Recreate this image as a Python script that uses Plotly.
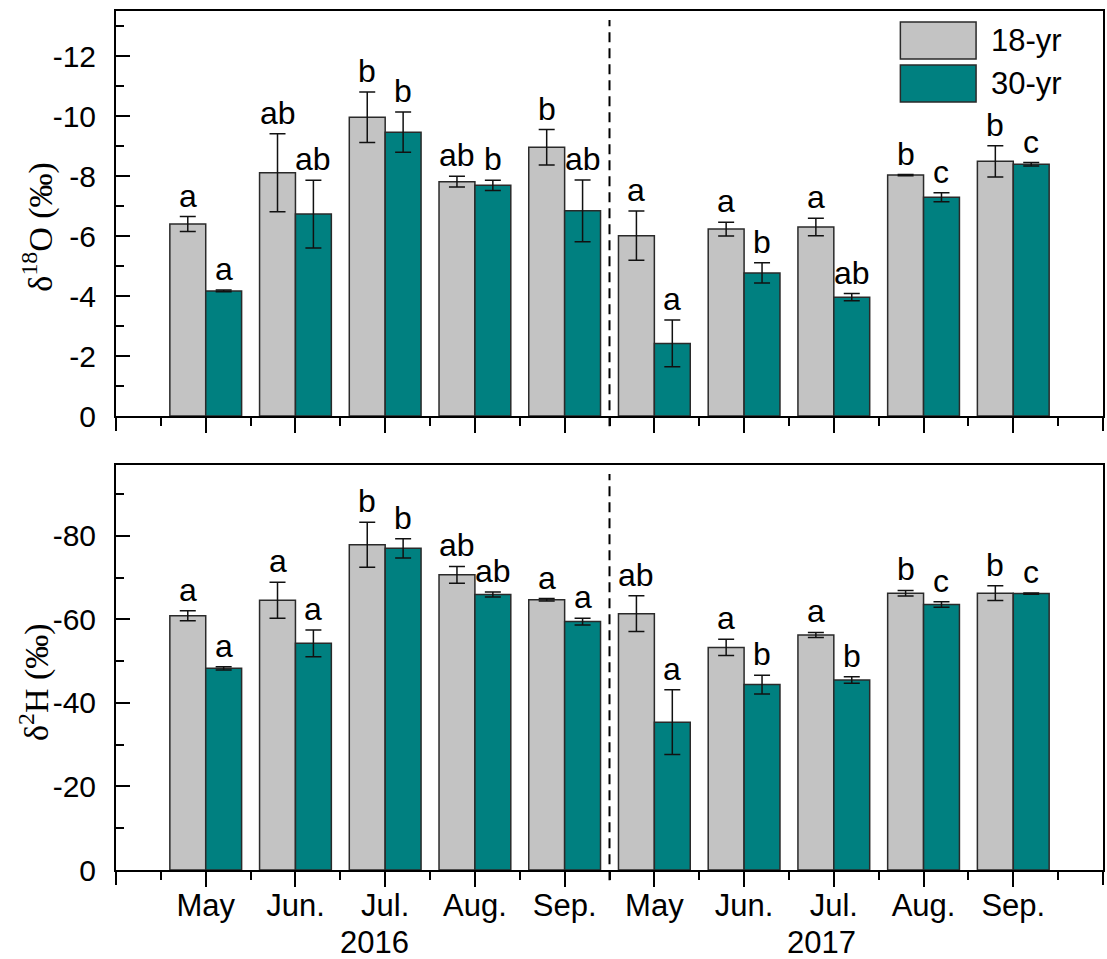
import plotly.graph_objects as go
from plotly.subplots import make_subplots

# Sampling months (two seasons) and their years
months = ["May", "Jun.", "Jul.", "Aug.", "Sep.", "May", "Jun.", "Jul.", "Aug.", "Sep."]
years = ["2016", "2017"]

# delta-18O (per mil), mean and standard error
o18_18yr = [-6.40, -8.11, -9.96, -7.81, -8.96, -6.01, -6.23, -6.30, -8.03, -8.49]
o18_18yr_se = [0.25, 1.30, 0.84, 0.18, 0.59, 0.82, 0.23, 0.29, 0.02, 0.52]
o18_30yr = [-4.17, -6.73, -9.46, -7.69, -6.84, -2.42, -4.77, -3.96, -7.29, -8.39]
o18_30yr_se = [0.03, 1.13, 0.67, 0.17, 1.03, 0.78, 0.34, 0.12, 0.15, 0.06]

# delta-2H (per mil), mean and standard error
h2_18yr = [-60.9, -64.6, -77.9, -70.7, -64.7, -61.4, -53.3, -56.3, -66.3, -66.3]
h2_18yr_se = [1.2, 4.3, 5.4, 2.0, 0.3, 4.3, 1.95, 0.6, 0.65, 1.75]
h2_30yr = [-48.3, -54.3, -77.05, -66.0, -59.5, -35.4, -44.4, -45.5, -63.6, -66.2]
h2_30yr_se = [0.4, 3.2, 2.3, 0.6, 0.8, 7.75, 2.25, 0.8, 0.65, 0.15]

# Significance letters
o18_18yr_sig = ["a", "ab", "b", "ab", "b", "a", "a", "a", "b", "b"]
o18_30yr_sig = ["a", "ab", "b", "b", "ab", "a", "b", "ab", "c", "c"]
h2_18yr_sig = ["a", "a", "b", "ab", "a", "ab", "a", "a", "b", "b"]
h2_30yr_sig = ["a", "a", "b", "ab", "a", "a", "b", "b", "c", "c"]

# Axis ticks
o18_ticks = [0, -2, -4, -6, -8, -10, -12]
o18_ticktext = ["0", "-2", "-4", "-6", "-8", "-10", "-12"]
h2_ticks = [0, -20, -40, -60, -80]
h2_ticktext = ["0", "-20", "-40", "-60", "-80"]

series_names = ["18-yr", "30-yr"]
GRAY = "#C3C3C3"
TEAL = "#008080"
EDGE = "#2a2a2a"
SANS = "Liberation Sans, Arial, sans-serif"
SERIF = "Liberation Serif, Times New Roman, serif"
BAR_W = 0.4

x_pos = list(range(1, len(months) + 1))

fig = make_subplots(rows=2, cols=1)

panels = [
    (1, o18_18yr, o18_18yr_se, o18_30yr, o18_30yr_se, o18_18yr_sig, o18_30yr_sig),
    (2, h2_18yr, h2_18yr_se, h2_30yr, h2_30yr_se, h2_18yr_sig, h2_30yr_sig),
]

annotations = []
for row, a_vals, a_se, b_vals, b_se, a_sig, b_sig in panels:
    for vals, se, sig, color, offset, name in [
        (a_vals, a_se, a_sig, GRAY, -BAR_W, series_names[0]),
        (b_vals, b_se, b_sig, TEAL, 0.0, series_names[1]),
    ]:
        fig.add_trace(
            go.Bar(
                x=x_pos, y=vals, width=BAR_W, offset=offset, name=name,
                marker=dict(color=color, line=dict(color=EDGE, width=1.5)),
                error_y=dict(type="data", array=se, visible=True,
                             color="#111111", thickness=1.5, width=8),
                showlegend=False,
            ),
            row=row, col=1,
        )
        yref = "y" if row == 1 else "y2"
        xref = "x" if row == 1 else "x2"
        for xi, v, e, s in zip(x_pos, vals, se, sig):
            annotations.append(dict(
                x=xi + offset + BAR_W / 2, y=v - e, xref=xref, yref=yref,
                text=s, showarrow=False, yanchor="bottom", xanchor="center",
                yshift=1, font=dict(family=SANS, size=32, color="black"),
            ))

# Year labels under the month labels
annotations.append(dict(x=2.88, y=-0.062, xref="x2", yref="paper", text=years[0],
                        showarrow=False, yanchor="top", xanchor="center",
                        font=dict(family=SANS, size=31, color="black")))
annotations.append(dict(x=7.86, y=-0.062, xref="x2", yref="paper", text=years[1],
                        showarrow=False, yanchor="top", xanchor="center",
                        font=dict(family=SANS, size=31, color="black")))

# Rotated y-axis titles
annotations.append(dict(x=-0.079, y=0.749, xref="paper", yref="paper",
                        text="δ<sup>18</sup>O (‰)", textangle=-90, showarrow=False,
                        xanchor="center", yanchor="middle",
                        font=dict(family=SERIF, size=34, color="black")))
annotations.append(dict(x=-0.082, y=0.219, xref="paper", yref="paper",
                        text="δ<sup>2</sup>H (‰)", textangle=-90, showarrow=False,
                        xanchor="center", yanchor="middle",
                        font=dict(family=SERIF, size=34, color="black")))

# Legend, drawn as boxes in the top panel
shapes = []
for (y0, y1), color, label, yc in [((0.8815, 0.9728), GRAY, series_names[0], 0.927),
                                   ((0.7753, 0.8667), TEAL, series_names[1], 0.821)]:
    shapes.append(dict(type="rect", xref="x domain", yref="y domain",
                       x0=0.7947, x1=0.8714, y0=y0, y1=y1,
                       fillcolor=color, line=dict(color=EDGE, width=1.5)))
    annotations.append(dict(x=0.884, y=yc, xref="x domain", yref="y domain",
                            text=label, showarrow=False, xanchor="left",
                            yanchor="middle",
                            font=dict(family=SANS, size=31, color="black")))

# Dashed separator between the two years
for xr, yr in [("x", "y domain"), ("x2", "y2 domain")]:
    shapes.append(dict(type="line", xref=xr, yref=yr, x0=5.5, x1=5.5,
                       y0=-0.025, y1=0.978,
                       line=dict(color="black", width=2, dash="10px,6px")))

# Frame edges continue below the bottom axis like the other major ticks
for yr in ["y domain", "y2 domain"]:
    xr = "x domain" if yr == "y domain" else "x2 domain"
    for xe in [0, 1]:
        shapes.append(dict(type="line", xref=xr, yref=yr, x0=xe, x1=xe,
                           ysizemode="pixel", yanchor=0, y0=0, y1=-15,
                           line=dict(color="black", width=2)))

x_minor = [i + 0.5 for i in range(0, 11)]

common_x = dict(
    range=[0, 11], tickmode="array", tickvals=x_pos, ticktext=months,
    ticks="outside", ticklen=15, tickwidth=2, tickcolor="black",
    showline=True, linecolor="black", linewidth=2, mirror=True,
    showgrid=False, zeroline=False, ticklabelstandoff=-8,
    tickfont=dict(family=SANS, size=31, color="black"),
    minor=dict(tickmode="array", tickvals=x_minor, ticks="outside",
               ticklen=8, tickwidth=2, tickcolor="black", showgrid=False),
)
fig.update_xaxes(**common_x)
fig.update_xaxes(showticklabels=False, row=1, col=1)

common_y = dict(
    ticks="inside", ticklen=14, tickwidth=2, tickcolor="black",
    showline=True, linecolor="black", linewidth=2, mirror=True,
    showgrid=False, zeroline=False, ticklabelstandoff=12,
    tickfont=dict(family=SANS, size=30, color="black"),
)
fig.update_yaxes(**common_y)
fig.update_yaxes(range=[0, -13.5], tickmode="array", tickvals=o18_ticks,
                 ticktext=o18_ticktext,
                 minor=dict(tickmode="array", tickvals=[-1, -3, -5, -7, -9, -11, -13],
                            ticks="inside", ticklen=8, tickwidth=2,
                            tickcolor="black", showgrid=False),
                 domain=[0.5285, 1.0], row=1, col=1)
fig.update_yaxes(range=[0, -97], tickmode="array", tickvals=h2_ticks,
                 ticktext=h2_ticktext,
                 minor=dict(tickmode="array", tickvals=[-10, -30, -50, -70, -90],
                            ticks="inside", ticklen=8, tickwidth=2,
                            tickcolor="black", showgrid=False),
                 domain=[0.0, 0.4715], row=2, col=1)
fig.update_xaxes(domain=[0, 1])

fig.update_layout(
    width=1107, height=959,
    margin=dict(l=116, r=2, t=11, b=89),
    paper_bgcolor="white", plot_bgcolor="white",
    barmode="overlay",
    annotations=annotations, shapes=shapes,
    showlegend=False,
)

fig.write_html("out.html")
